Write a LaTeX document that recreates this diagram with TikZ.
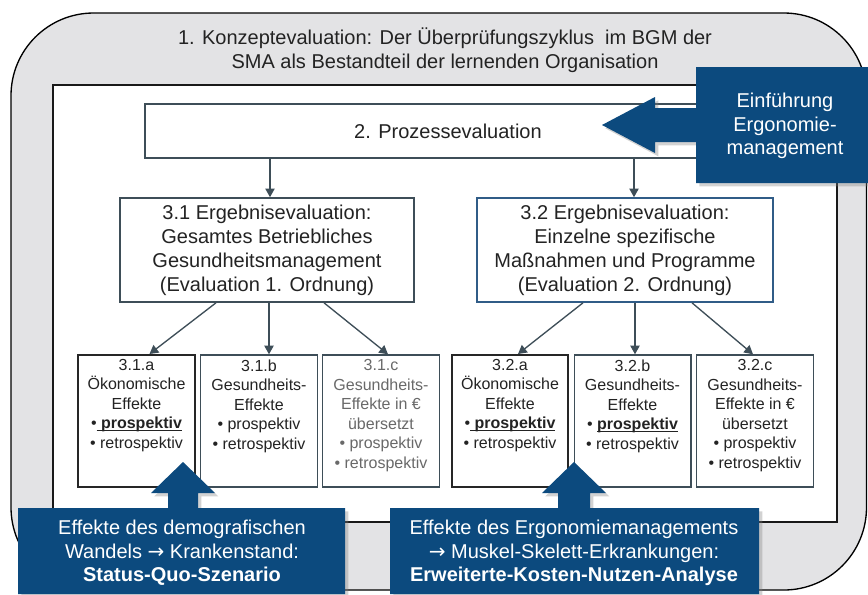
\documentclass[tikz,border=0pt]{standalone}
\usepackage{fontspec}
\setmainfont{Liberation Sans}
\newfontfamily\arrowfont{DejaVu Sans}
\usetikzlibrary{arrows.meta,shadows,calc}
\definecolor{txt}{RGB}{35,35,35}
\definecolor{bgray}{RGB}{227,227,229}
\definecolor{slate}{RGB}{62,78,88}
\definecolor{slateblue}{RGB}{48,92,135}
\definecolor{navy}{RGB}{12,74,126}
\definecolor{lgtxt}{RGB}{105,105,105}
\newcommand\myul[1]{\setbox0\hbox{#1}\rlap{\rule[-1.7pt]{\wd0}{0.8pt}}\box0}
\newcommand\myarrow{{\arrowfont →}}
\begin{document}
\begin{tikzpicture}[x=0.75pt,y=-0.75pt,
 big/.style={font=\fontsize{15}{18}\selectfont,text=txt,align=center},
 smalltxt/.style={font=\fontsize{12}{14.6}\selectfont,text=txt,align=center,inner sep=0pt,anchor=north},
 midbox/.style={draw=slate,line width=1.2pt,fill=white,minimum height=78pt,inner sep=2pt},
 sbox/.style={draw=slate,line width=1.1pt,fill=white,minimum width=87.4pt,minimum height=99pt,inner sep=0pt},
 sboxk/.style={sbox,draw=black!85,line width=1.5pt},
 arr/.style={draw=slate,line width=1pt,-{Triangle[length=6.5pt,width=7pt]}},
 callout/.style={fill=navy,drop shadow={opacity=0.35,shadow xshift=2.5pt,shadow yshift=-2.5pt}},
 calltxt/.style={font=\fontsize{15}{17.7}\selectfont,text=white,align=center}
]
\useasboundingbox (0,0) rectangle (868,594);
\fill[white] (0,0) rectangle (868,594);
% outer frame
\draw[fill=bgray,line width=1pt,rounded corners=62pt] (11,13) rectangle (866.5,590);
\node[big] (title) at (445,50) {1. Konzeptevaluation: Der Überprüfungszyklus\ \ im BGM der\\SMA als Bestandteil der lernenden Organisation};
% inner frame
\draw[fill=white,line width=1.1pt,draw=black!90] (53,85) rectangle (837,522);
% process box
\node[draw=slate,line width=1.2pt,fill=white,minimum width=438.75pt,minimum height=40.5pt,inner sep=0pt] (proc) at (437.5,131) {};
\node[big] (ptxt) at (448,131) {2. Prozessevaluation};
% result boxes
\node[midbox,big,minimum width=220.5pt] (b31) at (267,250) {3.1 Ergebnisevaluation:\\Gesamtes Betriebliches\\Gesundheitsmanagement\\(Evaluation 1. Ordnung)};
\node[midbox,big,draw=slateblue,minimum width=222pt] (b32) at (625,250) {3.2 Ergebnisevaluation:\\Einzelne spezifische\\Maßnahmen und Programme\\(Evaluation 2. Ordnung)};
% small boxes
\node[sboxk] (s31a) at (136.5,421) {};
\node[sbox] (s31b) at (259,421) {};
\node[sbox] (s31c) at (381,421) {};
\node[sboxk] (s32a) at (510,421) {};
\node[sbox] (s32b) at (632.5,421) {};
\node[sbox] (s32c) at (755,421) {};
\node[smalltxt] (t31a) at ($(s31a.north)+(0,5)$) {3.1.a\\Ökonomische\\Effekte\\•\myul{\ \textbf{prospektiv}}\\• retrospektiv};
\node[smalltxt] (t31b) at ($(s31b.north)+(0,5)$) {3.1.b\\Gesundheits-\\Effekte\\• prospektiv\\• retrospektiv};
\node[smalltxt,text=lgtxt] (t31c) at ($(s31c.north)+(0,5)$) {3.1.c\\Gesundheits-\\Effekte in €\\übersetzt\\• prospektiv\\• retrospektiv};
\node[smalltxt] (t32a) at ($(s32a.north)+(0,5)$) {3.2.a\\Ökonomische\\Effekte\\•\myul{\ \textbf{prospektiv}}\\• retrospektiv};
\node[smalltxt] (t32b) at ($(s32b.north)+(0,5)$) {3.2.b\\Gesundheits-\\Effekte\\• \myul{\textbf{prospektiv}}\\• retrospektiv};
\node[smalltxt] (t32c) at ($(s32c.north)+(0,5)$) {3.2.c\\Gesundheits-\\Effekte in €\\übersetzt\\• prospektiv\\• retrospektiv};
% connectors
\coordinate (d1) at ($(b31.north)+(3,0)$);
\coordinate (d2) at ($(b32.north)+(9,0)$);
\draw[arr] (d1 |- proc.south) -- (d1);
\draw[arr] (d2 |- proc.south) -- (d2);
\draw[arr] ($(b31.south)+(-51,0)$) -- ($(s31a.north)+(13,0)$);
\draw[arr] ($(b31.south)+(2,0)$) -- ($(s31b.north)+(10,0)$);
\draw[arr] ($(b31.south)+(57,0)$) -- ($(s31c.north)+(7,0)$);
\draw[arr] ($(b32.south)+(-42,0)$) -- ($(s32a.north)+(8,0)$);
\draw[arr] ($(b32.south)+(10,0)$) -- ($(s32b.north)+(2.5,0)$);
\draw[arr] ($(b32.south)+(67,0)$) -- ($(s32c.north)+(-2,0)$);
% callouts
\fill[callout] (868,67) -- (696,67) -- (696,108) -- (655,108) -- (655,97) -- (602,125) -- (655,153) -- (655,142) -- (696,142) -- (696,183) -- (868,183) -- cycle;
\node[calltxt] (tein) at (785,126) {Einführung\\Ergonomie-\\management};
\fill[callout] (18,594) -- (18,508) -- (168,508) -- (168,493) -- (151,493) -- (183,462) -- (215,493) -- (198,493) -- (198,508) -- (345,508) -- (345,594) -- cycle;
\node[calltxt] (tdemo) at (182,553) {Effekte des demografischen\\Wandels \myarrow{} Krankenstand:\\\textbf{Status-Quo-Szenario}};
\fill[callout] (390,594) -- (390,508) -- (558,508) -- (558,493) -- (542,493) -- (574,462) -- (606,493) -- (590,493) -- (590,508) -- (759,508) -- (759,594) -- cycle;
\node[calltxt] (tergo) at (574,553) {Effekte des Ergonomiemanagements\\\myarrow{} Muskel-Skelett-Erkrankungen:\\\textbf{Erweiterte-Kosten-Nutzen-Analyse}};
\end{tikzpicture}
\end{document}
